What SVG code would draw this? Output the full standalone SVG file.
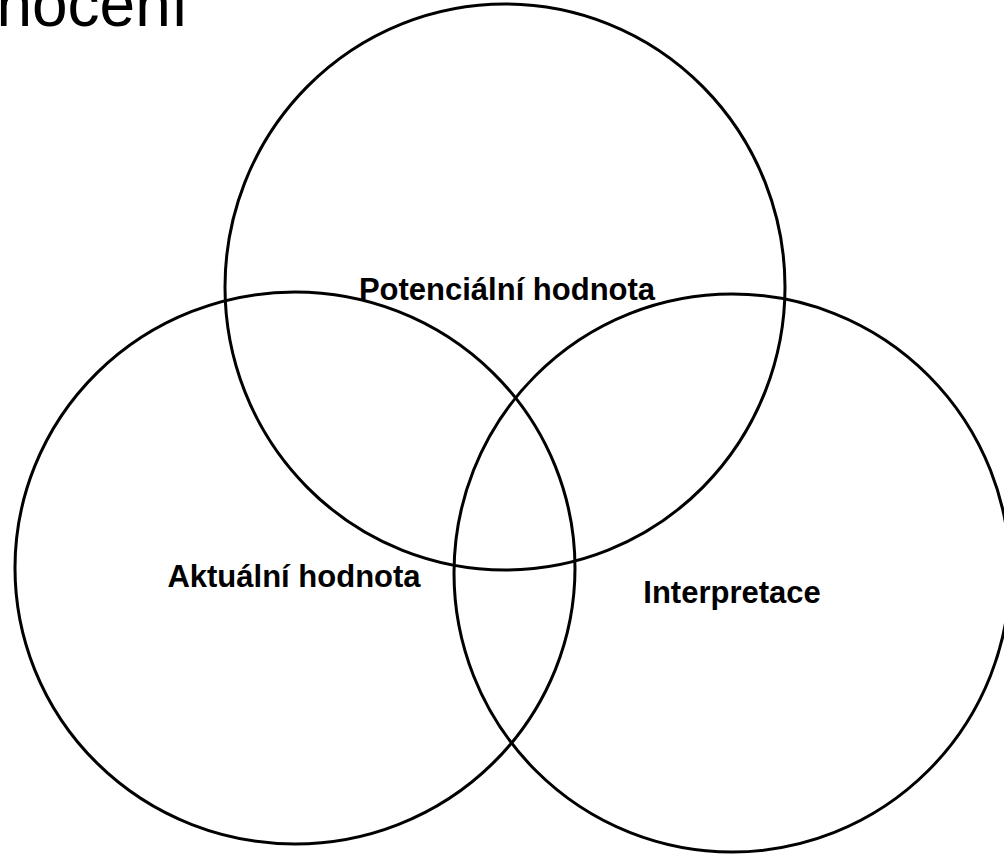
<svg xmlns="http://www.w3.org/2000/svg" width="1004" height="857" viewBox="0 0 1004 857">
  <style>
    .circ { fill: none; stroke: #000; stroke-width: 3; }
    .lbl { font-family: "Liberation Sans", Arial, sans-serif; font-weight: bold; font-size: 31px; fill: #000; text-anchor: middle; }
    .title { font-family: "Liberation Sans", Arial, sans-serif; font-size: 64px; fill: #000; }
  </style>
  <rect width="1004" height="857" fill="#fff"/>
  <text class="title" x="-121" y="26">Hodnocení</text>
  <g id="potencialni">
    <ellipse class="circ" cx="505" cy="287" rx="280" ry="283"/>
    <text class="lbl" x="507" y="300">Potenciální hodnota</text>
  </g>
  <g id="aktualni">
    <ellipse class="circ" cx="295" cy="568" rx="280" ry="276"/>
    <text class="lbl" x="294" y="587">Aktuální hodnota</text>
  </g>
  <g id="interpretace">
    <ellipse class="circ" cx="732" cy="573" rx="278" ry="279"/>
    <text class="lbl" x="732" y="603">Interpretace</text>
  </g>
  <g id="connectors"/>
</svg>
